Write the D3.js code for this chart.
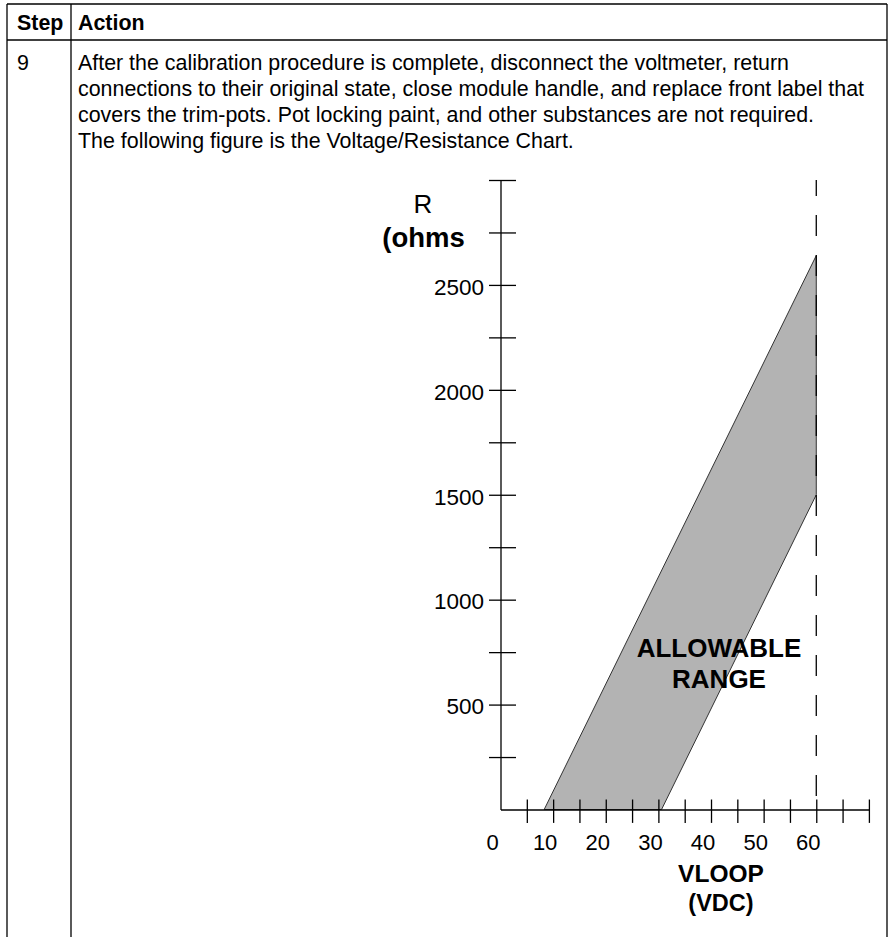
<!DOCTYPE html>
<html>
<head>
<meta charset="utf-8">
<script src="https://cdn.jsdelivr.net/npm/d3@7"></script>
<style>
  html, body { margin: 0; padding: 0; background: #fff; }
  svg { display: block; }
  text { font-family: "Liberation Sans", Arial, Helvetica, sans-serif; fill: #000; }
</style>
</head>
<body>
<svg id="chart" width="888" height="937"></svg>
<script>
// ---- Data ----
const headerLabels = ["Step", "Action"];
const stepNumber = "9";
const actionLines = [
  "After the calibration procedure is complete, disconnect the voltmeter, return",
  "connections to their original state, close module handle, and replace front label that",
  "covers the trim-pots. Pot locking paint, and other substances are not required.",
  "The following figure is the Voltage/Resistance Chart."
];
const yTickValues = [250, 500, 750, 1000, 1250, 1500, 1750, 2000, 2250, 2500, 2750, 3000];
const yTickLabels = [500, 1000, 1500, 2000, 2500];
const xTickValues = [5, 10, 15, 20, 25, 30, 35, 40, 45, 50, 55, 60, 65, 70];
const xTickLabels = [0, 10, 20, 30, 40, 50, 60];
const bandVoltage = [8.3, 30.6, 60, 60];
const bandResistance = [0, 0, 1500, 2640];
const vMax = 60;
const yTitle = ["R", "(ohms"];
const xTitle = ["VLOOP", "(VDC)"];
const bandLabel = ["ALLOWABLE", "RANGE"];

// ---- Drawing ----
const svg = d3.select("#chart");
const W = 888, H = 937;
const ink = "#000";

// Table frame
const table = svg.append("g").attr("stroke", ink).attr("stroke-width", 1.3).attr("fill", "none");
table.append("line").attr("x1", 7).attr("x2", 887).attr("y1", 4).attr("y2", 4);
table.append("line").attr("x1", 7).attr("x2", 887).attr("y1", 40).attr("y2", 40);
table.append("line").attr("x1", 7).attr("x2", 7).attr("y1", 4).attr("y2", H);
table.append("line").attr("x1", 71).attr("x2", 71).attr("y1", 4).attr("y2", H);
table.append("line").attr("x1", 887).attr("x2", 887).attr("y1", 4).attr("y2", H);

svg.selectAll("text.hdr").data(headerLabels).join("text")
  .attr("class", "hdr")
  .attr("x", (d, i) => i === 0 ? 17 : 78)
  .attr("y", 30)
  .attr("font-size", 21.4)
  .attr("font-weight", "bold")
  .text(d => d);

svg.append("text").attr("x", 17).attr("y", 70).attr("font-size", 21.4).text(stepNumber);

svg.selectAll("text.line").data(actionLines).join("text")
  .attr("class", "line")
  .attr("x", 78)
  .attr("y", (d, i) => 70 + i * 26)
  .attr("font-size", 21.4)
  .text(d => d);

// Chart
const x = d3.scaleLinear().domain([0, 70]).range([500.5, 868.9]);
const y = d3.scaleLinear().domain([0, 3000]).range([809.5, 180]);

// Band polygon
const pts = bandVoltage.map((v, i) => [x(v), y(bandResistance[i])]);
svg.append("path")
  .attr("d", d3.line()(pts) + "Z")
  .attr("fill", "#b3b3b3")
  .attr("stroke", "#333")
  .attr("stroke-width", 1);

// Dashed vertical line at vMax
svg.append("line")
  .attr("x1", x(vMax)).attr("x2", x(vMax))
  .attr("y1", y(3000)).attr("y2", y(0))
  .attr("stroke", ink).attr("stroke-width", 1.3)
  .attr("stroke-dasharray", "21,19")
  .attr("stroke-dashoffset", 5);

// Y axis
const yAxis = svg.append("g")
  .attr("transform", `translate(${x(0)},0)`)
  .call(d3.axisLeft(y).tickValues(yTickValues).tickSizeOuter(0).tickFormat(""));
yAxis.select(".domain").attr("stroke", ink).attr("stroke-width", 1.3);
yAxis.selectAll(".tick line").attr("x1", -11.5).attr("x2", 15.5).attr("stroke", ink).attr("stroke-width", 1.3);

svg.selectAll("text.ylab").data(yTickLabels).join("text")
  .attr("class", "ylab")
  .attr("x", x(0) - 16.5)
  .attr("y", d => y(d) + 9.8)
  .attr("text-anchor", "end")
  .attr("font-size", 22.5)
  .text(d => d);

// X axis
const xAxis = svg.append("g")
  .attr("transform", `translate(0,${y(0)})`)
  .call(d3.axisBottom(x).tickValues(xTickValues).tickSizeOuter(0).tickFormat(""));
xAxis.select(".domain").attr("stroke", ink).attr("stroke-width", 1.3);
xAxis.selectAll(".tick line").attr("y1", -10).attr("y2", 13.4).attr("stroke", ink).attr("stroke-width", 1.3);

svg.selectAll("text.xlab").data(xTickLabels).join("text")
  .attr("class", "xlab")
  .attr("x", d => x(d) - 8)
  .attr("y", 849.5)
  .attr("text-anchor", "middle")
  .attr("font-size", 22)
  .text(d => d);

// Axis titles
svg.append("text").attr("x", 423).attr("y", 213).attr("text-anchor", "middle")
  .attr("font-size", 26).text(yTitle[0]);
svg.append("text").attr("x", 423.5).attr("y", 247).attr("text-anchor", "middle")
  .attr("font-size", 27.5).attr("font-weight", "bold").text(yTitle[1]);

svg.selectAll("text.xt").data(xTitle).join("text")
  .attr("class", "xt")
  .attr("x", 721)
  .attr("y", (d, i) => i === 0 ? 881.5 : 910.5)
  .attr("text-anchor", "middle")
  .attr("font-size", (d, i) => i === 0 ? 24.5 : 23.5)
  .attr("font-weight", "bold")
  .text(d => d);

// Band label
svg.selectAll("text.band").data(bandLabel).join("text")
  .attr("class", "band")
  .attr("x", 719)
  .attr("y", (d, i) => 656.5 + i * 31)
  .attr("text-anchor", "middle")
  .attr("font-size", 26)
  .attr("font-weight", "bold")
  .text(d => d);
</script>
</body>
</html>
